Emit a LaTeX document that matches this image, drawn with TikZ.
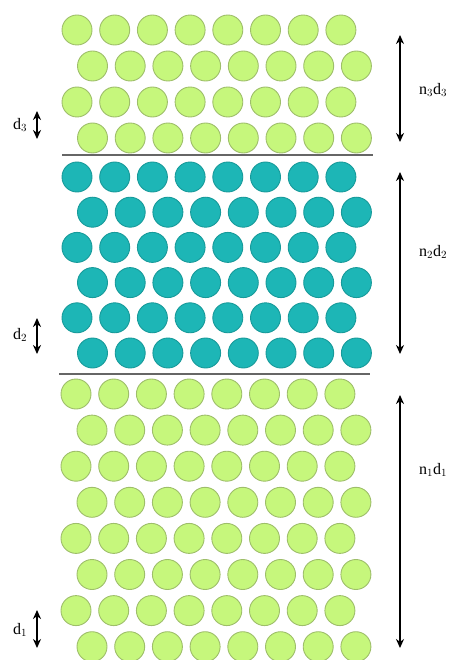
\documentclass[tikz,border=0pt]{standalone}
\usepackage{fontspec}
\setmainfont{Liberation Serif}
\usetikzlibrary{arrows.meta}
\definecolor{lgreen}{HTML}{C6F77C}
\definecolor{lgreenedge}{HTML}{9EBE6A}
\definecolor{teal2}{HTML}{1DB6B6}
\definecolor{tealedge}{HTML}{179A9A}
\tikzset{
  ball/.style={circle, minimum size=30pt, inner sep=0pt, line width=0.9pt},
  gball/.style={ball, fill=lgreen, draw=lgreenedge},
  tball/.style={ball, fill=teal2, draw=tealedge},
  sep/.style={draw=black!60, line width=1.4pt},
  dimarrow/.style={{Stealth[length=9pt,width=8pt]}-{Stealth[length=9pt,width=8pt]}, line width=2pt},
  lbl/.style={font=\fontsize{16}{18}\selectfont, inner sep=0pt}
}
\begin{document}
\begin{tikzpicture}[x=1pt,y=-1pt]
\useasboundingbox (0,0) rectangle (452,660);
% top layer
\foreach \r [evaluate=\r as \yy using 30+36*(\r-1)] in {1,...,4}{
  \foreach \c [evaluate=\c as \xx using {(mod(\r,2)==1 ? 77 : 92.5)+37.7*(\c-1)}] in {1,...,8}{
    \node[gball] (t-\r-\c) at (\xx,\yy) {};
  }
}
\coordinate (s1a) at (62,155); \coordinate (s1b) at (373,155);
\draw[sep] (s1a) -- (s1b);
% middle layer
\foreach \r [evaluate=\r as \yy using 177+35.2*(\r-1)] in {1,...,6}{
  \foreach \c [evaluate=\c as \xx using {(mod(\r,2)==1 ? 77 : 92.5)+37.7*(\c-1)}] in {1,...,8}{
    \node[tball] (m-\r-\c) at (\xx,\yy) {};
  }
}
\coordinate (s2a) at (59,374); \coordinate (s2b) at (370,374);
\draw[sep] (s2a) -- (s2b);
% bottom layer
\foreach \r [evaluate=\r as \yy using 394+36.1*(\r-1)] in {1,...,8}{
  \foreach \c [evaluate=\c as \xx using {(mod(\r,2)==1 ? 76 : 92)+37.7*(\c-1)}] in {1,...,8}{
    \node[gball] (b-\r-\c) at (\xx,\yy) {};
  }
}
% big dimension arrows
\coordinate (a3t) at (400,35); \coordinate (a3b) at (400,142);
\draw[dimarrow] (a3t) -- (a3b);
\node[lbl] (n3) at (433,90) {n$_3$d$_3$};
\coordinate (a2t) at (400,172); \coordinate (a2b) at (400,354);
\draw[dimarrow] (a2t) -- (a2b);
\node[lbl] (n2) at (433,252) {n$_2$d$_2$};
\coordinate (a1t) at (400,395); \coordinate (a1b) at (400,648);
\draw[dimarrow] (a1t) -- (a1b);
\node[lbl] (n1) at (433,470) {n$_1$d$_1$};
% small arrows
\coordinate (d3t) at (37,111); \coordinate (d3b) at (37,139);
\draw[dimarrow] (d3t) -- (d3b);
\node[lbl] (l3) at (20,125) {d$_3$};
\coordinate (d2t) at (37,318); \coordinate (d2b) at (37,354);
\draw[dimarrow] (d2t) -- (d2b);
\node[lbl] (l2) at (20,335) {d$_2$};
\coordinate (d1t) at (37,610); \coordinate (d1b) at (37,648);
\draw[dimarrow] (d1t) -- (d1b);
\node[lbl] (l1) at (20,630) {d$_1$};
\end{tikzpicture}
\end{document}
